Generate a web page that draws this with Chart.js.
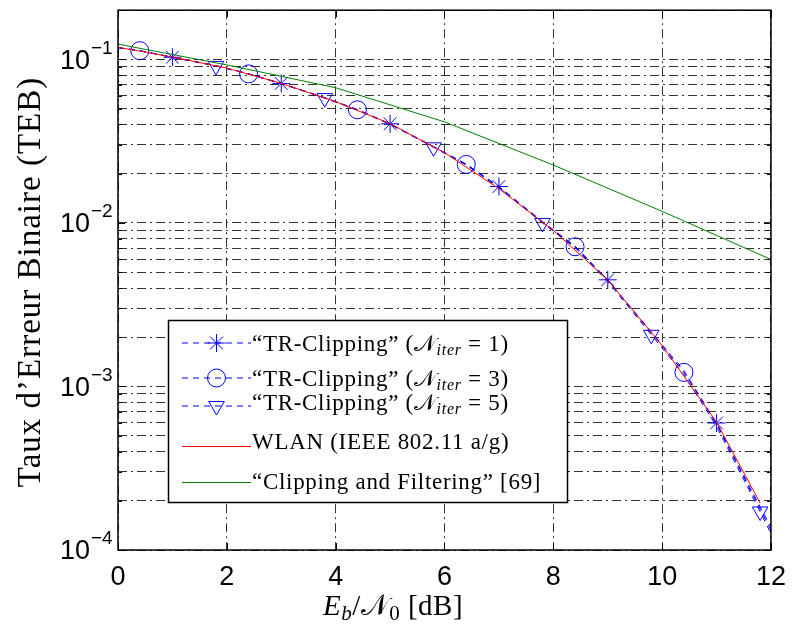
<!DOCTYPE html>
<html>
<head>
<meta charset="utf-8">
<script src="https://cdn.jsdelivr.net/npm/chart.js@4.4.1/dist/chart.umd.min.js"></script>
<style>
  html, body { margin: 0; padding: 0; background: #fff; }
  #wrap { width: 797px; height: 633px; }
</style>
</head>
<body>
<div id="wrap"><canvas id="ber" width="797" height="633"></canvas></div>
<script>
// ─── data ────────────────────────────────────────────────────────────────────
const ebn0Blue = [0, 0.4, 1, 1.8, 2.4, 3, 3.8, 4.4, 5, 5.8, 6.4, 7, 7.8, 8.4, 9, 9.8, 10.4, 11, 11.8, 12];
const berIter1 = [0.118, 0.1131, 0.1031, 0.0916, 0.0817, 0.0713, 0.0584, 0.0494, 0.0404, 0.0293, 0.0229, 0.0167, 0.0102, 0.00722, 0.00449, 0.00216, 0.00125, 0.000598, 0.000184, 0.000138];
const berIter3 = [0.118, 0.1131, 0.1031, 0.0915, 0.0816, 0.0712, 0.0582, 0.0492, 0.0403, 0.0292, 0.0228, 0.0166, 0.0101, 0.00715, 0.00445, 0.00212, 0.00122, 0.00059, 0.000178, 0.000132];
const berIter5 = [0.118, 0.113, 0.103, 0.0913, 0.0814, 0.071, 0.058, 0.049, 0.0401, 0.029, 0.0226, 0.0164, 0.01, 0.00706, 0.00438, 0.00207, 0.00118, 0.00057, 0.000172, 0.000126];
const markIter1 = [1, 3, 5, 7, 9, 11];
const markIter3 = [0.4, 2.4, 4.4, 6.4, 8.4, 10.4];
const markIter5 = [1.8, 3.8, 5.8, 7.8, 9.8, 11.8];

const ebn0Wlan = [0, 1, 2, 3, 4, 5, 6, 7, 8, 9, 10, 11, 11.8];
const berWlan  = [0.1186, 0.1035, 0.0885, 0.0714, 0.0551, 0.0405, 0.0269, 0.0162, 0.009, 0.00448, 0.00178, 0.000605, 0.000194];

const ebn0Cf = [0, 2, 4, 6, 8, 10, 12];
const berCf  = [0.124, 0.0926, 0.0671, 0.0415, 0.0226, 0.01178, 0.00598];

const xTicks   = [0, 2, 4, 6, 8, 10, 12];
const yDecades = [-4, -3, -2, -1];
const iterCounts = [1, 3, 5];

// ─── styling ─────────────────────────────────────────────────────────────────
const BLUE = '#0000ff', RED = '#ff0000', GREEN = '#008000';
const GRID = 'rgba(0,0,0,0.8)';
const GRID_DASH = [9, 4, 2, 4];
const SERIF = '"Liberation Serif", "DejaVu Serif", "DejaVu Sans", serif';
const SANS = '"Liberation Sans", Arial, sans-serif';

// minor + major log grid positions (1..9 x 10^n)
const yGrid = [];
yDecades.forEach(e => { for (let m = 1; m <= 9; m++) yGrid.push(m * Math.pow(10, e)); });
yGrid.push(0.2);

const pts = (xs, ys) => xs.map((v, i) => ({ x: v, y: ys[i] }));
const radii = (xs, marks, r) => xs.map(v => marks.includes(v) ? r : 0);

// draws a run of text pieces: {t, size, italic, dy}
function drawRich(ctx, parts, x, y, align, spacing = 0) {
  const fontOf = p => `${p.italic ? 'italic ' : ''}${p.size}px ${SERIF}`;
  ctx.letterSpacing = spacing + 'px';
  let w = 0;
  parts.forEach(p => { ctx.font = fontOf(p); w += ctx.measureText(p.t).width; });
  let cx = align === 'center' ? x - w / 2 : x;
  ctx.textAlign = 'left';
  ctx.textBaseline = 'alphabetic';
  parts.forEach(p => {
    ctx.font = fontOf(p);
    ctx.fillText(p.t, cx, y + (p.dy || 0));
    cx += ctx.measureText(p.t).width;
  });
  ctx.letterSpacing = '0px';
}

const LEG = 23;
const iterLabel = n => [
  { t: '\u201CTR-Clipping\u201D (', size: LEG },
  { t: '\uD835\uDCA9', size: LEG },
  { t: 'iter', size: 16, italic: true, dy: 4 },
  { t: ' = ' + n + ')', size: LEG },
];

const figurePlugin = {
  id: 'figure',
  afterDraw(chart) {
    const { ctx, chartArea: a, scales: { x, y } } = chart;
    ctx.save();

    // axes box
    ctx.strokeStyle = '#000';
    ctx.lineWidth = 1.5;
    ctx.setLineDash([]);
    ctx.strokeRect(a.left, a.top, a.right - a.left, a.bottom - a.top);

    // inward ticks
    ctx.lineWidth = 1;
    ctx.beginPath();
    xTicks.forEach(v => {
      const px = Math.round(x.getPixelForValue(v)) + 0.5;
      ctx.moveTo(px, a.bottom); ctx.lineTo(px, a.bottom - 7);
      ctx.moveTo(px, a.top); ctx.lineTo(px, a.top + 7);
    });
    yGrid.forEach(v => {
      const py = Math.round(y.getPixelForValue(v)) + 0.5;
      const len = Math.abs(Math.log10(v) - Math.round(Math.log10(v))) < 1e-6 ? 7 : 4;
      ctx.moveTo(a.left, py); ctx.lineTo(a.left + len, py);
      ctx.moveTo(a.right, py); ctx.lineTo(a.right - len, py);
    });
    ctx.stroke();

    // y tick labels 10^n
    ctx.fillStyle = '#000';
    yDecades.forEach(e => {
      const py = y.getPixelForValue(Math.pow(10, e));
      ctx.font = `27px ${SANS}`;
      ctx.textAlign = 'right';
      ctx.textBaseline = 'middle';
      ctx.fillText('10', 90, py + 2);
      ctx.font = `19px ${SANS}`;
      ctx.textAlign = 'left';
      ctx.fillText('\u2212' + Math.abs(e), 91, py - 11);
    });

    // axis titles
    drawRich(ctx, [
      { t: 'E', size: 29, italic: true },
      { t: 'b', size: 21, italic: true, dy: 5 },
      { t: '/\uD835\uDCA9', size: 29 },
      { t: '0', size: 21, dy: 5 },
      { t: ' [dB]', size: 29 },
    ], 393, 615, 'center', 0.5);

    ctx.save();
    ctx.translate(40, 282);
    ctx.rotate(-Math.PI / 2);
    drawRich(ctx, [{ t: 'Taux d\u2019Erreur Binaire (TEB)', size: 33 }], 0, 0, 'center', 1);
    ctx.restore();

    // legend
    const lx = 168.5, ly = 320.5, lw = 399, lh = 182;
    ctx.fillStyle = '#fff';
    ctx.fillRect(lx, ly, lw, lh);
    ctx.strokeStyle = '#000';
    ctx.lineWidth = 1.5;
    ctx.strokeRect(lx, ly, lw, lh);

    const rows = [
      { yLine: 343, yText: 351, color: BLUE, dash: [6, 5], style: 'star', rot: 0, label: iterLabel(iterCounts[0]) },
      { yLine: 378, yText: 386, color: BLUE, dash: [6, 5], style: 'circle', rot: 0, label: iterLabel(iterCounts[1]) },
      { yLine: 406, yText: 410, color: BLUE, dash: [6, 5], style: 'triangle', rot: 180, label: iterLabel(iterCounts[2]) },
      { yLine: 446.5, yText: 449, color: RED, dash: [], style: null, label: [{ t: 'WLAN (IEEE 802.11 a/g)', size: LEG }] },
      { yLine: 482.5, yText: 489, color: GREEN, dash: [], style: null, label: [{ t: '\u201CClipping and Filtering\u201D [69]', size: LEG }] },
    ];
    rows.forEach(r => {
      ctx.strokeStyle = r.color;
      ctx.lineWidth = 1;
      ctx.setLineDash(r.dash);
      ctx.beginPath();
      ctx.moveTo(182, r.yLine);
      ctx.lineTo(251, r.yLine);
      ctx.stroke();
      ctx.setLineDash([]);
      if (r.style) {
        ctx.fillStyle = 'rgba(0,0,0,0)';
        Chart.helpers.drawPoint(ctx, { pointStyle: r.style, rotation: r.rot, radius: 9, borderWidth: 1 }, 216.5, r.yLine);
      }
      ctx.fillStyle = '#000';
      drawRich(ctx, r.label, 252, r.yText, 'left', 0.7);
    });

    ctx.restore();
  }
};

const lineBase = { borderWidth: 1, tension: 0, fill: false, pointBorderWidth: 1, pointBackgroundColor: 'rgba(0,0,0,0)' };

new Chart(document.getElementById('ber'), {
  type: 'line',
  data: {
    datasets: [
      Object.assign({}, lineBase, { label: '\u201CClipping and Filtering\u201D [69]', data: pts(ebn0Cf, berCf), borderColor: GREEN, pointRadius: 0 }),
      Object.assign({}, lineBase, { label: 'WLAN (IEEE 802.11 a/g)', data: pts(ebn0Wlan, berWlan), borderColor: RED, pointRadius: 0 }),
      Object.assign({}, lineBase, { label: 'TR-Clipping (Niter = 1)', data: pts(ebn0Blue, berIter1), borderColor: BLUE, borderDash: [6, 5],
        pointStyle: 'star', pointRadius: radii(ebn0Blue, markIter1, 9), pointBorderColor: BLUE }),
      Object.assign({}, lineBase, { label: 'TR-Clipping (Niter = 3)', data: pts(ebn0Blue, berIter3), borderColor: BLUE, borderDash: [6, 5],
        pointStyle: 'circle', pointRadius: radii(ebn0Blue, markIter3, 9), pointBorderColor: BLUE }),
      Object.assign({}, lineBase, { label: 'TR-Clipping (Niter = 5)', data: pts(ebn0Blue, berIter5), borderColor: BLUE, borderDash: [6, 5],
        pointStyle: 'triangle', pointRotation: 180, pointRadius: radii(ebn0Blue, markIter5, 9), pointBorderColor: BLUE }),
    ]
  },
  options: {
    responsive: false,
    animation: false,
    devicePixelRatio: 1,
    layout: { padding: { top: 6, right: 16, left: 0, bottom: 0 } },
    plugins: { legend: { display: false }, tooltip: { enabled: false } },
    scales: {
      x: {
        type: 'linear', min: 0, max: 12,
        afterBuildTicks: s => { s.ticks = xTicks.map(v => ({ value: v })); },
        afterFit: s => { s.height = 83; },
        ticks: { color: '#000', font: { family: SANS, size: 27 }, padding: 11, maxRotation: 0, autoSkip: false },
        grid: { color: GRID, lineWidth: 1, drawTicks: false },
        border: { display: false, dash: GRID_DASH },
      },
      y: {
        type: 'logarithmic', min: 1e-4, max: 0.2,
        afterBuildTicks: s => { s.ticks = yGrid.map(v => ({ value: v })); },
        afterFit: s => { s.width = 118; },
        ticks: { callback: () => '', autoSkip: false },
        grid: { color: GRID, lineWidth: 1, drawTicks: false },
        border: { display: false, dash: GRID_DASH },
      }
    }
  },
  plugins: [figurePlugin]
});
</script>
</body>
</html>
